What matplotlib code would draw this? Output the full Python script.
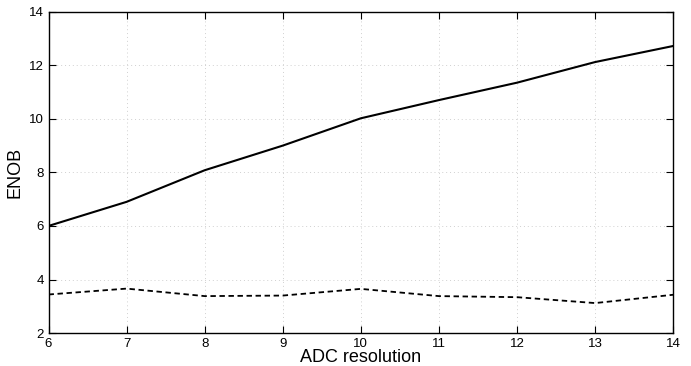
import numpy as np
from matplotlib import pyplot as plt

plt.rcParams['font.family'] = ['Liberation Sans', 'DejaVu Sans']

adc_bits = [6, 7, 8, 9, 10, 11, 12, 13, 14]
enob_solid = [6.0, 6.9, 8.08, 9.0, 10.02, 10.7, 11.35, 12.12, 12.72]
enob_dashed = [3.44, 3.66, 3.38, 3.4, 3.65, 3.38, 3.34, 3.12, 3.43]

fig = plt.figure(figsize=(6.91, 3.66), dpi=100)
ax = fig.add_axes([0.0702, 0.090, 0.904, 0.878])

ax.plot(adc_bits, enob_solid, color='black', linewidth=1.5, linestyle='-')
ax.plot(adc_bits, enob_dashed, color='black', linewidth=1.3, linestyle=(0, (3, 2)))

ax.set_xlim(6, 14)
ax.set_ylim(2, 14)
ax.set_xticks(range(6, 15))
ax.set_yticks(range(2, 15, 2))
ax.grid(True, linestyle=(0, (1, 3)), color='#d0d0d0', linewidth=0.7)
ax.tick_params(direction='in', top=True, right=True, labelsize=9.5, length=5)
for s in ax.spines.values():
  s.set_linewidth(1.0)

ax.set_xlabel('ADC resolution', fontsize=13, labelpad=-0.5)
ax.set_ylabel('ENOB', fontsize=13, labelpad=4)

fig.savefig('out.png', dpi=100)
